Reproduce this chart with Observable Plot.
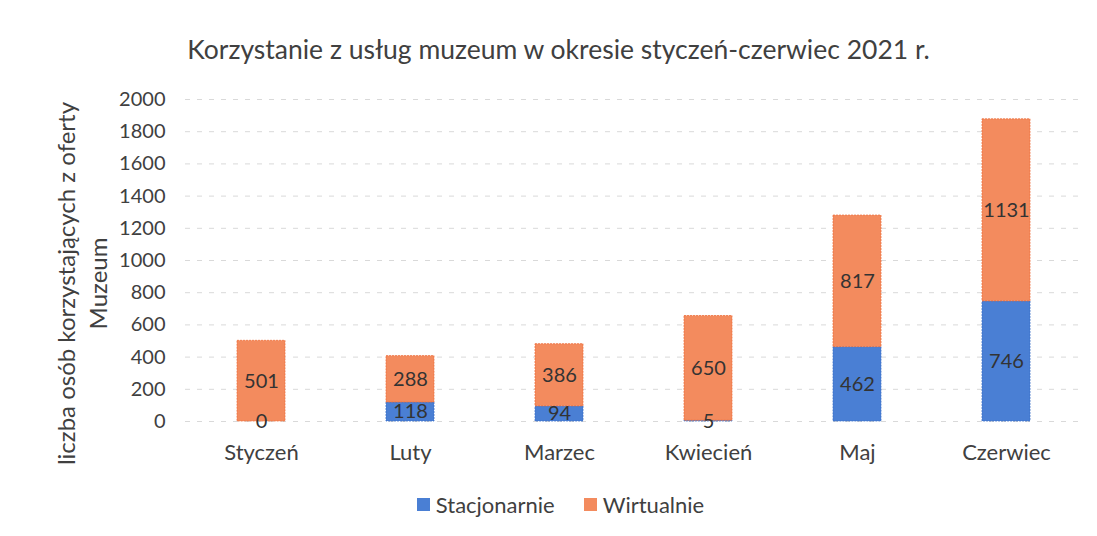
<!DOCTYPE html>
<html>
<head>
<meta charset="utf-8">
<script src="https://cdn.jsdelivr.net/npm/d3@7"></script>
<script src="https://cdn.jsdelivr.net/npm/@observablehq/plot@0.6"></script>
<style>
  body { margin: 0; background: #fff; font-family: Lato, "Open Sans", sans-serif; }
  #wrap { position: relative; width: 1097px; height: 536px; overflow: hidden; }
  #title { height: 85px; box-sizing: border-box; padding-top: 35px; text-align: center; font-size: 26.5px; line-height: 28px; color: #404040; padding-left: 20px; }
  #legend { display: flex; justify-content: center; align-items: center; gap: 29px; padding-top: 21px; font-size: 22px; color: #404040; padding-left: 24px; }
  .item { display: flex; align-items: center; gap: 6px; }
  .sw { width: 13px; height: 13px; display: inline-block; }
  #chart svg { overflow: visible; }
</style>
</head>
<body>
<div id="wrap">
  <div id="title">Korzystanie z usług muzeum w okresie styczeń-czerwiec 2021 r.</div>
  <div id="chart"></div>
  <div id="legend"></div>
</div>
<script>
const months = ["Styczeń", "Luty", "Marzec", "Kwiecień", "Maj", "Czerwiec"];
const seriesNames = ["Stacjonarnie", "Wirtualnie"];
const stacjonarnie = [0, 118, 94, 5, 462, 746];
const wirtualnie = [501, 288, 386, 650, 817, 1131];
const yTicks = [0, 200, 400, 600, 800, 1000, 1200, 1400, 1600, 1800, 2000];
const colors = ["#4a7fd4", "#f38b5e"];
const yTitle = "liczba osób korzystających z oferty\nMuzeum";

const rows = [];
months.forEach((m, i) => rows.push({month: m, series: seriesNames[0], value: stacjonarnie[i]}));
months.forEach((m, i) => rows.push({month: m, series: seriesNames[1], value: wirtualnie[i]}));

const plot = Plot.plot({
  width: 1097,
  height: 385,
  marginLeft: 185,
  marginRight: 15,
  marginTop: 14,
  marginBottom: 49,
  style: {fontFamily: "Lato, 'Open Sans', sans-serif", fontSize: "20px", color: "#404040", background: "transparent", overflow: "visible"},
  x: {domain: months, paddingInner: 0.68, paddingOuter: 0.34, tickSize: 0, tickPadding: 23, label: null},
  y: {domain: [0, 2000], ticks: yTicks, tickSize: 0, tickPadding: 20, label: null, tickFormat: d => String(d)},
  color: {domain: seriesNames, range: colors},
  marks: [
    Plot.ruleY(yTicks, {stroke: "#d9d9d9", strokeWidth: 1, strokeDasharray: "5,7"}),
    Plot.barY(rows, {x: "month", y: "value", fill: "series", stroke: d => d.series === seriesNames[0] ? "#3a70c8" : "#ee6f3c", strokeWidth: 0.8, strokeDasharray: "2,1"}),
    Plot.text(rows, Plot.stackY({x: "month", y: "value", text: d => String(d.value), fill: "#333", fontSize: 20})),
    Plot.text([yTitle], {frameAnchor: "left", textAnchor: "middle", dx: -105, dy: 23, rotate: -90, fontSize: 24, fill: "#404040", lineHeight: 1.35})
  ]
});
document.getElementById("chart").appendChild(plot);
plot.querySelectorAll("g[aria-label='x-axis tick label'] text, g[aria-label='x-axis'] text").forEach(t => t.setAttribute("font-size", "22"));

const legend = document.getElementById("legend");
seriesNames.forEach((s, i) => {
  const item = document.createElement("div");
  item.className = "item";
  const sw = document.createElement("span");
  sw.className = "sw";
  sw.style.background = colors[i];
  const t = document.createElement("span");
  t.textContent = s;
  item.appendChild(sw);
  item.appendChild(t);
  legend.appendChild(item);
});
</script>
</body>
</html>
